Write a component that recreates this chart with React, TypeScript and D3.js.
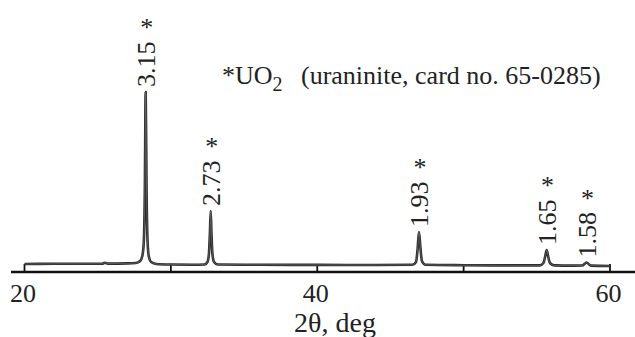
import React from 'react';
import * as d3 from 'd3';

const width = 635,
      height = 337;

// XRD profile (2θ in deg, intensity in arbitrary units)
const twoTheta = [
  20, 22, 24, 25.3, 25.5, 25.7, 27, 27.6, 27.9, 28.05, 28.15, 28.22, 28.28, 28.34, 28.41, 28.5, 28.65, 29.0,
  30, 31.5, 32.3, 32.5, 32.6, 32.67, 32.72, 32.77, 32.84, 32.95, 33.2,
  36, 40, 44, 46.5, 46.75, 46.85, 46.95, 47.05, 47.15, 47.4,
  50, 53, 55.2, 55.45, 55.58, 55.67, 55.77, 55.9, 56.2,
  57.5, 58.1, 58.3, 58.4, 58.5, 58.7, 60,
];
const intensity = [
  8, 8.2, 8.3, 8.3, 9.2, 8.4, 8.6, 9, 11, 16, 30, 80, 180, 80, 30, 15, 10, 8,
  7.5, 7.3, 7.5, 10, 18, 40, 61, 40, 18, 10, 7.5,
  7.2, 7.1, 7, 7.2, 10, 22, 40, 24, 11, 7.2,
  6.8, 6.6, 6.6, 9, 16, 22, 16, 9, 6.6,
  6.4, 6.5, 8.5, 9.5, 8.5, 6.4, 6,
];

// indexed peaks
const peakPos = [28.28, 32.72, 46.95, 55.67, 58.4];
const peakHeight = [180, 61, 40, 22, 9.5];
const dLabels = ['3.15', '2.73', '1.93', '1.65', '1.58'];

const xTicks = [20, 30, 40, 50, 60];
const xTickLabels = ['20', '', '40', '', '60'];

const xTitle = '2θ, deg';
const phaseName = '*UO';
const phaseSub = '2';
const phaseNote = '(uraninite, card no. 65-0285)';

const serif = { fontFamily: "'Liberation Serif'" };

const App = () => {
  const x = d3.scaleLinear().domain([20, 60]).range([24.5, 610]);
  const y = d3.scaleLinear().domain([0, 200]).range([272, 72]);

  const pts: [number, number][] = twoTheta.map((t, i) => [t, intensity[i]]);
  const line = d3.line<[number, number]>()
    .x(d => x(d[0]))
    .y(d => y(d[1]))
    .curve(d3.curveMonotoneX);

  return (
    <svg
      width={width}
      height={height}
      viewBox={`0 0 ${width} ${height}`}
      style={{ position: 'absolute', left: 0, top: 0, background: '#fff' }}
    >
      {/* axis */}
      <line x1={11} x2={635} y1={y(0)} y2={y(0)} stroke="#111" strokeWidth={2.5} />
      {xTicks.map((t, i) => (
        <g key={t}>
          <line x1={x(t)} x2={x(t)} y1={y(0)} y2={y(8)} stroke="#111" strokeWidth={1.8} />
          {xTickLabels[i] && (
            <text x={x(t) - 1.5} y={302} fontSize={26} textAnchor="middle" fill="#222" style={serif}>
              {xTickLabels[i]}
            </text>
          )}
        </g>
      ))}
      <text x={335} y={332} fontSize={28} textAnchor="middle" fill="#222" style={serif}>{xTitle}</text>

      {/* pattern */}
      <path d={line(pts) || ''} fill="none" stroke="#2a2a2a" strokeWidth={2.6} strokeLinejoin="round" />
      <path d={line(pts) || ''} fill="none" stroke="#777" strokeWidth={0.6} strokeLinejoin="round" />

      {/* peak labels */}
      {peakPos.map((p, i) => {
        const bottom = y(peakHeight[i]) - 5;
        const len = dLabels[i].length * 11.4;
        return (
          <g key={dLabels[i]}>
            <text
              transform={`translate(${x(p)},${bottom}) rotate(-90)`}
              dy="0.35em"
              fontSize={26}
              fill="#222"
              style={serif}
            >
              {dLabels[i]}
            </text>
            <text x={x(p) + 1} y={bottom - len - 20 + 15} fontSize={26} textAnchor="middle" fill="#222" style={serif}>*</text>
          </g>
        );
      })}

      {/* phase annotation */}
      <text x={222} y={84} fontSize={26} fill="#222" style={serif}>
        {phaseName}
        <tspan fontSize={20} dy={7}>{phaseSub}</tspan>
      </text>
      <text x={301} y={84} fontSize={26} fill="#222" style={serif}>{phaseNote}</text>
    </svg>
  );
};

export default App;
